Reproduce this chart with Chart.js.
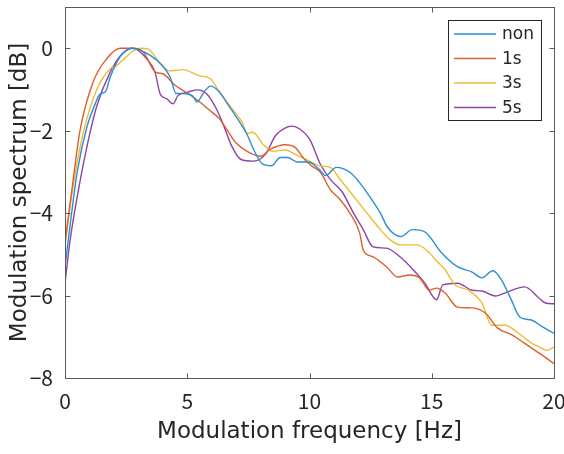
<!DOCTYPE html>
<html>
<head>
<meta charset="utf-8">
<script src="https://cdn.jsdelivr.net/npm/chart.js@4"></script>
<style>
html,body{margin:0;padding:0;background:#fff;}
#wrap{width:564px;height:454px;}
</style>
</head>
<body>
<div id="wrap"><canvas id="c" width="564" height="454"></canvas></div>
<script>
const seriesLabels = ['non', '1s', '3s', '5s'];
const xTicks = [0, 5, 10, 15, 20];
const yTicks = [-8, -6, -4, -2, 0];

const nonFreq = [0,0.25,0.5,0.9,1.2,1.45,1.65,1.85,2.25,2.75,3.5,4.0,4.3,4.55,4.8,5.2,5.4,5.7,5.95,6.3,6.7,7.1,7.45,7.75,8.1,8.45,8.8,9.1,9.5,9.95,10.4,10.65,11.1,11.65,12.05,12.45,12.9,13.2,13.75,14.2,14.7,15.4,16.05,16.65,17.05,17.5,17.85,18.25,18.6,19.1,19.5,20];
const nonVal = [-5.3,-4.1,-3.0,-1.9,-1.4,-1.1,-1.06,-0.7,-0.21,0,-0.18,-0.43,-0.7,-1.1,-1.1,-1.15,-1.3,-1.05,-0.92,-1.05,-1.4,-1.75,-2.1,-2.5,-2.82,-2.85,-2.65,-2.65,-2.76,-2.76,-2.94,-3.09,-2.89,-3.01,-3.26,-3.59,-4.0,-4.35,-4.57,-4.4,-4.45,-4.96,-5.3,-5.43,-5.57,-5.4,-5.62,-6.1,-6.52,-6.6,-6.75,-6.92];

const s1Freq = [0,0.3,0.6,1.15,1.7,2.25,2.8,3.2,3.7,4.0,4.5,4.9,5.4,5.9,6.3,6.65,7.0,7.45,8.0,8.4,9.0,9.4,9.8,10.1,10.45,10.85,11.25,11.65,12.05,12.2,12.6,13.15,13.6,14.1,14.5,14.9,15.2,15.55,16.05,16.65,17.2,17.7,18.3,18.8,19.35,20];
const s1Val = [-4.7,-3.35,-2.04,-0.82,-0.26,0,0,-0.09,-0.58,-0.62,-0.9,-1.05,-1.25,-1.5,-1.7,-2.0,-2.3,-2.5,-2.62,-2.45,-2.34,-2.4,-2.7,-2.86,-3.01,-3.43,-3.67,-4.0,-4.48,-4.9,-5.06,-5.3,-5.55,-5.5,-5.57,-5.87,-5.82,-5.94,-6.28,-6.3,-6.43,-6.79,-6.96,-7.16,-7.38,-7.65];

const s3Freq = [0,0.33,0.75,1.3,1.85,2.1,2.5,2.75,3.1,3.4,3.9,4.3,4.8,5.5,5.95,6.3,6.85,7.25,7.47,7.68,8.1,8.5,9.0,9.5,10.0,10.45,10.85,11.25,11.8,12.35,12.9,13.3,13.7,14.4,14.9,15.15,15.55,15.95,16.5,17.05,17.45,18.0,18.5,19.1,19.35,19.7,20];
const s3Val = [-4.8,-3.35,-2.04,-1.0,-0.5,-0.43,-0.21,-0.08,0,-0.02,-0.38,-0.55,-0.52,-0.67,-0.74,-1.05,-1.48,-1.8,-2.07,-2.04,-2.33,-2.5,-2.47,-2.6,-2.74,-2.86,-2.89,-3.18,-3.59,-4.0,-4.4,-4.65,-4.77,-4.77,-4.96,-5.13,-5.38,-5.74,-5.87,-6.18,-6.72,-6.72,-6.89,-7.16,-7.23,-7.33,-7.25];

const s5Freq = [0,0.2,0.48,0.9,1.3,1.85,2.35,2.78,3.35,3.68,3.9,4.17,4.42,4.62,5.0,5.4,5.8,6.2,6.5,6.8,7.2,7.7,8.2,8.6,9.1,9.3,9.6,10.0,10.45,10.85,11.35,11.8,12.2,12.6,13.15,13.7,14.25,14.72,15.2,15.45,16.05,16.65,17.05,17.6,18.1,18.8,19.35,19.65,20];
const s5Val = [-5.7,-4.7,-3.67,-2.38,-1.4,-0.58,-0.13,0,-0.26,-0.58,-1.12,-1.23,-1.35,-1.15,-1.07,-1.01,-1.11,-1.48,-1.89,-2.35,-2.7,-2.74,-2.57,-2.13,-1.91,-1.89,-1.96,-2.2,-2.82,-3.18,-3.5,-4.0,-4.4,-4.82,-4.85,-5.06,-5.38,-5.7,-6.1,-5.74,-5.7,-5.87,-5.89,-6.01,-5.91,-5.79,-6.04,-6.18,-6.2];

const colors = ['#2a8fd4', '#dc5f2c', '#eebb33', '#8e44a3'];
const TICKFONT = '"Noto Sans CJK JP", "Noto Sans", sans-serif';
const TITLEFONT = '"DejaVu Sans", sans-serif';

function pts(f, v) { return f.map((x, i) => ({ x: x, y: v[i] })); }
const allF = [nonFreq, s1Freq, s3Freq, s5Freq];
const allV = [nonVal, s1Val, s3Val, s5Val];

const datasets = seriesLabels.map((lab, i) => ({
  label: lab,
  data: pts(allF[i], allV[i]),
  borderColor: colors[i],
  backgroundColor: colors[i],
  borderWidth: 1.4,
  pointRadius: 0,
  fill: false,
  cubicInterpolationMode: 'monotone'
}));

const frame = {
  id: 'frame',
  afterDatasetsDraw(chart) {
    const { ctx, chartArea: a, scales } = chart;
    ctx.save();
    ctx.strokeStyle = '#5a5a5a';
    ctx.lineWidth = 1;
    const L = Math.round(a.left) + 0.5, R = Math.round(a.right) + 0.5;
    const T = Math.round(a.top) + 0.5, B = Math.round(a.bottom) + 0.5;
    ctx.strokeRect(L, T, R - L, B - T);
    const tl = 5;
    ctx.beginPath();
    xTicks.forEach(v => {
      const x = Math.round(scales.x.getPixelForValue(v)) + 0.5;
      ctx.moveTo(x, B); ctx.lineTo(x, B - tl);
      ctx.moveTo(x, T); ctx.lineTo(x, T + tl);
    });
    yTicks.forEach(v => {
      const y = Math.round(scales.y.getPixelForValue(v)) + 0.5;
      ctx.moveTo(L, y); ctx.lineTo(L + tl, y);
      ctx.moveTo(R, y); ctx.lineTo(R - tl, y);
    });
    ctx.stroke();
    // legend
    const lx = 448.5, ly = 20.5, lw = 93, lh = 100;
    ctx.fillStyle = '#fff';
    ctx.fillRect(lx, ly, lw, lh);
    ctx.strokeStyle = '#262626';
    ctx.strokeRect(lx, ly, lw, lh);
    ctx.font = '17px ' + TITLEFONT;
    ctx.textBaseline = 'middle';
    ctx.textAlign = 'left';
    chart.data.datasets.forEach((ds, i) => {
      const y = 34 + i * 24.5;
      ctx.strokeStyle = ds.borderColor;
      ctx.lineWidth = 1.4;
      ctx.beginPath();
      ctx.moveTo(454, y); ctx.lineTo(496, y);
      ctx.stroke();
      ctx.fillStyle = '#262626';
      ctx.fillText(ds.label, 502, y + 1);
    });
    ctx.restore();
  }
};

new Chart(document.getElementById('c'), {
  type: 'line',
  data: { datasets: datasets },
  plugins: [frame],
  options: {
    responsive: false,
    animation: false,
    layout: { padding: { left: 0, right: 10, top: 7, bottom: 0 } },
    plugins: { legend: { display: false }, tooltip: { enabled: false } },
    scales: {
      x: {
        type: 'linear', min: 0, max: 20,
        afterBuildTicks: s => { s.ticks = xTicks.map(v => ({ value: v })); },
        afterFit: s => { s.height = 76; s.paddingLeft = 0; s.paddingRight = 0; },
        grid: { display: false, drawTicks: false },
        border: { display: false },
        ticks: { color: '#262626', font: { family: TICKFONT, size: 21 }, padding: 10, maxRotation: 0 },
        title: { display: true, text: 'Modulation frequency [Hz]', color: '#262626', font: { family: TITLEFONT, size: 23 }, padding: { top: 0, bottom: 8 } }
      },
      y: {
        type: 'linear', min: -8, max: 1,
        afterBuildTicks: s => { s.ticks = yTicks.map(v => ({ value: v })); },
        afterFit: s => { s.width = 65; s.paddingTop = 0; s.paddingBottom = 0; },
        grid: { display: false, drawTicks: false },
        border: { display: false },
        ticks: { color: '#262626', font: { family: TICKFONT, size: 21 }, padding: 12,
          callback: v => (v < 0 ? '\u2212' + Math.abs(v) : String(v)) },
        title: { display: true, text: 'Modulation spectrum [dB]', color: '#262626', font: { family: TITLEFONT, size: 23 }, padding: { top: 6, bottom: 0 } }
      }
    }
  }
});
</script>
</body>
</html>
